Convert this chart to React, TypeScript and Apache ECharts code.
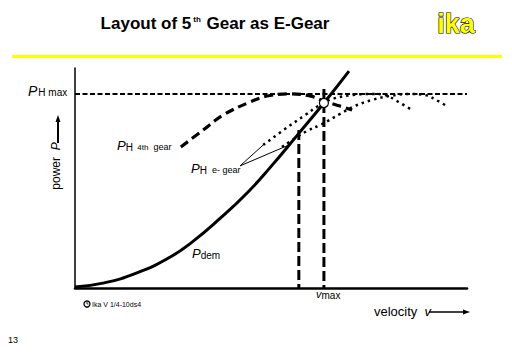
import React, { useEffect, useRef } from "react";
import * as echarts from "echarts";

// Curves (x: relative velocity 0..100, y: relative power 0..100)
const pDem: [number, number][] = [
  [0, 0.5], [7.1, 2.2], [15.8, 6.9], [24.2, 14.0], [30.1, 21.2], [37.0, 31.6],
  [43.9, 43.2], [49.7, 54.6], [57.1, 70.3], [63.5, 84.1], [69.9, 98.6],
];
const pH4thGear: [number, number][] = [
  [27.0, 64.1], [32.7, 71.8], [37.8, 78.6], [44.6, 84.5], [49.7, 87.5], [54.8, 88.2],
  [59.9, 87.3], [63.5, 85.0], [67.6, 82.7], [70.7, 80.9],
];
const pHeGearA: [number, number][] = [
  [48.0, 65.0], [54.3, 73.2], [58.7, 78.6], [62.0, 82.7], [65.6, 85.9], [70.7, 87.7],
  [75.8, 88.2], [79.1, 87.7], [82.1, 85.0], [85.5, 81.4],
];
const pHeGearB: [number, number][] = [
  [52.8, 64.1], [58.7, 70.9], [63.0, 74.5], [67.6, 79.1], [71.4, 82.7], [75.8, 85.5],
  [80.4, 87.3], [85.5, 88.2], [89.3, 87.7], [92.6, 85.0], [95.2, 82.3],
];
const pHmax = 88.2;
const vCross4th = 57.1; // intersection of P_dem with 4th gear region
const vMax = 63.5;
const vCross4thTop = 71.8;
const vMaxTop = 90.5;
const vMaxPoint: [number, number] = [63.5, 84.1];
const pointerStart: [number, number] = [42.1, 55.5];
const pointerEnds: [number, number][] = [[48.0, 65.0], [54.3, 64.8]];

const FONT = "'Liberation Sans', Arial, sans-serif";

export default function App() {
  const ref = useRef<HTMLDivElement>(null);
  useEffect(() => {
    if (!ref.current) return;
    const chart = echarts.init(ref.current, null, { renderer: "svg" });
    const black = "#000";
    const option: any = {
      animation: false,
      backgroundColor: "#fff",
      grid: { left: 75, right: 45, top: 68, bottom: 66 },
      xAxis: {
        type: "value", min: 0, max: 100,
        axisLine: { show: true, onZero: false, lineStyle: { color: black, width: 2.5 } },
        axisTick: { show: false }, axisLabel: { show: false }, splitLine: { show: false },
      },
      yAxis: {
        type: "value", min: 0, max: 100,
        axisLine: { show: true, onZero: false, lineStyle: { color: black, width: 1.5 } },
        axisTick: { show: false }, axisLabel: { show: false }, splitLine: { show: false },
      },
      series: [
        {
          type: "line", data: [[0, pHmax], [100, pHmax]], symbol: "none",
          lineStyle: { color: black, width: 2, type: [5, 2.5] }, z: 2,
        },
        {
          type: "line", data: [[vCross4th, vCross4thTop], [vCross4th, 0]], symbol: "none",
          lineStyle: { color: black, width: 3, type: [10, 4] }, z: 2,
        },
        {
          type: "line", data: [[vMax, vMaxTop], [vMax, 0]], symbol: "none",
          lineStyle: { color: black, width: 3, type: [10, 4] }, z: 2,
        },
        {
          type: "line", data: pH4thGear, symbol: "none", smooth: 0.4,
          lineStyle: { color: black, width: 3.2, type: [9, 5] }, z: 3,
        },
        {
          type: "line", data: pHeGearA, symbol: "none", smooth: 0.4,
          lineStyle: { color: black, width: 2.5, type: [2.5, 4] }, z: 3,
        },
        {
          type: "line", data: pHeGearB, symbol: "none", smooth: 0.4,
          lineStyle: { color: black, width: 2.5, type: [2.5, 4] }, z: 3,
        },
        {
          type: "line", data: pDem, symbol: "none", smooth: 0.5,
          lineStyle: { color: black, width: 3 }, z: 4,
        },
        ...pointerEnds.map((e) => ({
          type: "line", data: [pointerStart, e], symbol: "none",
          lineStyle: { color: black, width: 1 }, z: 3,
        })),
        {
          type: "scatter", data: [vMaxPoint], symbol: "circle", symbolSize: 9,
          itemStyle: { color: "#fff", borderColor: black, borderWidth: 1.2, opacity: 1 }, z: 10,
        },
      ],
      graphic: [
        // title
        {
          type: "text", x: 215, y: 23,
          style: {
            text: "{a|Layout of 5}{b|th}{a| Gear as E-Gear}",
            align: "center", verticalAlign: "middle",
            rich: {
              a: { fontFamily: FONT, fontWeight: "bold", fontSize: 17, fill: black },
              b: { fontFamily: FONT, fontWeight: "bold", fontSize: 8, fill: black, padding: [0, 1, 7, 2] },
            },
          },
        },
        // logo
        {
          type: "text", x: 456, y: 24,
          style: {
            text: "ika", fontFamily: FONT, fontWeight: "bold", fontSize: 27,
            fill: "#ffff00", stroke: black, lineWidth: 1.2,
            align: "center", verticalAlign: "middle",
          },
        },
        { type: "rect", shape: { x: 12, y: 55, width: 490, height: 3 }, style: { fill: "#ffff00" } },
        // P_H max label
        {
          type: "text", x: 28, y: 92,
          style: {
            text: "{p|P}{s|H max}", verticalAlign: "middle",
            rich: {
              p: { fontFamily: FONT, fontStyle: "italic", fontSize: 14, fill: black, padding: [0, 1, 3, 0] },
              s: { fontFamily: FONT, fontSize: 10, fill: black },
            },
          },
        },
        // power P (rotated)
        {
          type: "text", x: 56, y: 166, rotation: Math.PI / 2,
          style: {
            text: "power  {p|P}", align: "center", verticalAlign: "middle",
            fontFamily: FONT, fontSize: 12, fill: black,
            rich: { p: { fontFamily: FONT, fontStyle: "italic", fontSize: 12, fill: black } },
          },
        },
        { type: "line", shape: { x1: 58, y1: 143, x2: 58, y2: 121 }, style: { stroke: black, lineWidth: 2 } },
        { type: "polygon", shape: { points: [[58, 115], [55.5, 122], [60.5, 122]] }, style: { fill: black } },
        // P_H 4th gear
        {
          type: "text", x: 117, y: 147,
          style: {
            text: "{p|P}{s|H}{t|  4th}{g|  gear}", verticalAlign: "middle",
            rich: {
              p: { fontFamily: FONT, fontStyle: "italic", fontSize: 13, fill: black, padding: [0, 0, 3, 0] },
              s: { fontFamily: FONT, fontSize: 10, fill: black },
              t: { fontFamily: FONT, fontSize: 8, fill: black },
              g: { fontFamily: FONT, fontSize: 9, fill: black },
            },
          },
        },
        // P_H e-gear
        {
          type: "text", x: 191, y: 170,
          style: {
            text: "{p|P}{s|H}{g|  e- gear}", verticalAlign: "middle",
            rich: {
              p: { fontFamily: FONT, fontStyle: "italic", fontSize: 13, fill: black, padding: [0, 0, 3, 0] },
              s: { fontFamily: FONT, fontSize: 10, fill: black },
              g: { fontFamily: FONT, fontSize: 9, fill: black },
            },
          },
        },
        // P_dem
        {
          type: "text", x: 192, y: 255,
          style: {
            text: "{p|P}{s|dem}", verticalAlign: "middle",
            rich: {
              p: { fontFamily: FONT, fontStyle: "italic", fontSize: 13, fill: black, padding: [0, 0, 3, 0] },
              s: { fontFamily: FONT, fontSize: 10, fill: black },
            },
          },
        },
        // v_max
        {
          type: "text", x: 316, y: 295,
          style: {
            text: "{p|v}{s|max}", verticalAlign: "middle",
            rich: {
              p: { fontFamily: FONT, fontStyle: "italic", fontSize: 11, fill: black, padding: [0, 0, 3, 0] },
              s: { fontFamily: FONT, fontSize: 10, fill: black },
            },
          },
        },
        // velocity v
        {
          type: "text", x: 374, y: 311,
          style: {
            text: "velocity  {p|v}", verticalAlign: "middle",
            fontFamily: FONT, fontSize: 13, fill: black,
            rich: { p: { fontFamily: FONT, fontStyle: "italic", fontSize: 13, fill: black } },
          },
        },
        { type: "line", shape: { x1: 429, y1: 312, x2: 463, y2: 312 }, style: { stroke: black, lineWidth: 1.5 } },
        { type: "polygon", shape: { points: [[470, 312], [463, 309.5], [463, 314.5]] }, style: { fill: black } },
        // copyright
        { type: "circle", shape: { cx: 87, cy: 304, r: 3 }, style: { fill: "#fff", stroke: black, lineWidth: 1.3 } },
        { type: "polyline", shape: { points: [[87, 302], [87, 304], [88.5, 304]] }, style: { stroke: black, lineWidth: 0.8, fill: "none" } },
        {
          type: "text", x: 92, y: 304,
          style: { text: "Ika V 1/4-10ds4", fontFamily: FONT, fontSize: 7, fill: black, verticalAlign: "middle" },
        },
        // page number
        {
          type: "text", x: 8, y: 340,
          style: { text: "13", fontFamily: FONT, fontSize: 9, fill: black, verticalAlign: "middle" },
        },
      ],
    };
    chart.setOption(option);
    return () => chart.dispose();
  }, []);
  return (
    <div
      ref={ref}
      style={{ position: "fixed", left: 0, top: 0, width: 512, height: 354, background: "#fff" }}
    />
  );
}
